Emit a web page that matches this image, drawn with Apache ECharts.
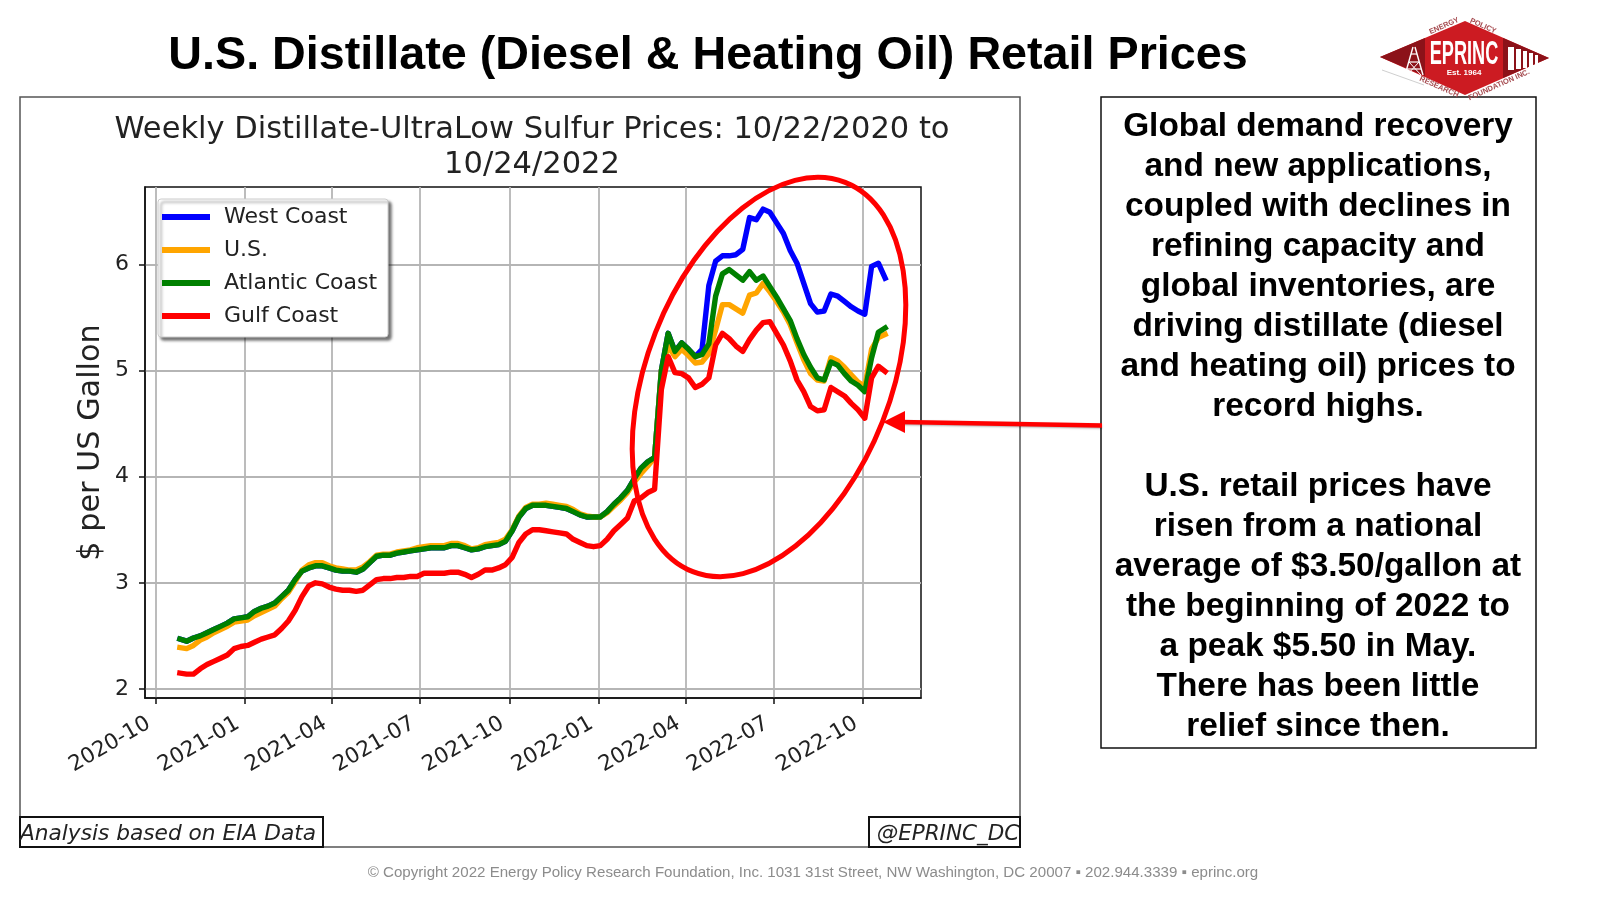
<!DOCTYPE html>
<html><head><meta charset="utf-8">
<style>html,body{margin:0;padding:0;background:#fff}#c{width:1600px;height:900px}</style>
<script src="https://cdn.jsdelivr.net/npm/echarts@6/dist/echarts.min.js"></script>
</head><body><div id="c"></div>
<script>
const firstWeek = Date.UTC(2020, 9, 26);
const weekCount = 105;
const xTickLabels = ['2020-10','2021-01','2021-04','2021-07','2021-10','2022-01','2022-04','2022-07','2022-10'];
const yTickLabels = [2,3,4,5,6];

const atlanticCoast = [2.47,2.45,2.48,2.50,2.53,2.56,2.59,2.62,2.66,2.67,2.68,2.73,2.76,2.78,2.81,2.87,2.93,3.03,3.11,3.14,
3.16,3.16,3.14,3.12,3.11,3.11,3.10,3.13,3.19,3.25,3.26,3.26,3.28,3.29,3.30,3.31,3.32,3.33,3.33,3.33,
3.35,3.35,3.33,3.31,3.32,3.34,3.35,3.36,3.39,3.49,3.62,3.70,3.73,3.73,3.73,3.72,3.71,3.70,3.67,3.64,
3.62,3.62,3.62,3.67,3.74,3.80,3.87,3.98,4.08,4.14,4.18,5.00,5.35,5.18,5.26,5.20,5.13,5.15,5.25,5.70,
5.91,5.95,5.90,5.85,5.93,5.85,5.89,5.79,5.69,5.58,5.47,5.30,5.15,5.03,4.93,4.91,5.08,5.05,4.97,4.90,
4.86,4.80,5.12,5.36,5.40];
const usAverage = [2.39,2.38,2.41,2.46,2.49,2.53,2.56,2.59,2.63,2.64,2.65,2.69,2.72,2.75,2.78,2.85,2.91,3.01,3.12,3.17,
3.19,3.19,3.16,3.14,3.13,3.12,3.12,3.15,3.20,3.26,3.27,3.27,3.29,3.30,3.31,3.33,3.34,3.35,3.35,3.35,
3.37,3.37,3.35,3.32,3.33,3.36,3.37,3.38,3.41,3.50,3.63,3.71,3.74,3.74,3.75,3.74,3.73,3.72,3.69,3.65,
3.63,3.62,3.62,3.66,3.72,3.78,3.85,3.95,4.03,4.10,4.18,5.00,5.23,5.13,5.20,5.14,5.07,5.08,5.16,5.38,
5.62,5.62,5.58,5.54,5.71,5.73,5.82,5.74,5.65,5.55,5.43,5.26,5.10,4.97,4.91,4.90,5.12,5.09,5.03,4.96,
4.89,4.85,5.20,5.31,5.34];
const gulfCoast = [2.15,2.14,2.14,2.19,2.23,2.26,2.29,2.32,2.38,2.40,2.41,2.44,2.47,2.49,2.51,2.57,2.64,2.74,2.87,2.97,
3.00,2.99,2.96,2.94,2.93,2.93,2.92,2.93,2.98,3.03,3.04,3.04,3.05,3.05,3.06,3.06,3.09,3.09,3.09,3.09,
3.10,3.10,3.08,3.05,3.08,3.12,3.12,3.14,3.17,3.24,3.38,3.46,3.50,3.50,3.49,3.48,3.47,3.46,3.41,3.38,
3.35,3.34,3.35,3.41,3.49,3.55,3.61,3.77,3.80,3.85,3.88,4.82,5.13,4.98,4.97,4.93,4.84,4.87,4.93,5.24,
5.35,5.30,5.23,5.18,5.29,5.38,5.45,5.46,5.35,5.24,5.09,4.91,4.80,4.66,4.62,4.63,4.84,4.80,4.76,4.69,
4.63,4.55,4.93,5.04,4.99];
// West Coast is only visible from May 2022; before that it lies hidden beneath the Atlantic line.
const westCoastVisible = [5.20,5.80,6.03,6.08,6.08,6.09,6.14,6.44,6.42,6.52,6.49,6.39,6.29,6.13,6.01,5.82,5.63,5.55,5.56,5.72,5.70,5.65,5.60,5.56,5.53,5.98,6.01,5.87];
const westCoast = atlanticCoast.slice(0, weekCount - westCoastVisible.length).concat(westCoastVisible);

const commentary = ['Global demand recovery','and new applications,','coupled with declines in','refining capacity and','global inventories, are','driving distillate (diesel','and heating oil) prices to','record highs.','','U.S. retail prices have','risen from a national','average of $3.50/gallon at','the beginning of 2022 to','a peak $5.50 in May.','There has been little','relief since then.'];

const DEJA = '"DejaVu Sans"', LIB = '"Liberation Sans"';
const weeks = Array.from({length: weekCount}, (_, i) => firstWeek + i * 7 * 864e5);
const zip = vals => vals.map((v, i) => [weeks[i], v]);
const xTicks = xTickLabels.map(s => Date.UTC(+s.slice(0,4), +s.slice(5)-1, 1));
const mk = (name, data, color) => ({name, type:'line', data: zip(data), showSymbol:false, symbol:'none',
  lineStyle:{color, width:5.4, cap:'square', join:'round'}, itemStyle:{color}, emphasis:{disabled:true}, animation:false});

const txt = (text,x,y,font,fill,extra) => Object.assign({type:'text',x,y,z:20,silent:true,
  style:{text,font,fill,align:'center',verticalAlign:'middle'}},extra||{});
const box = (x,y,w,h,stroke,lw) => ({type:'rect',z:19,silent:true,shape:{x,y,width:w,height:h},style:{fill:null,stroke:stroke||'#000',lineWidth:lw||1.5}});
const poly = (points,fill) => ({type:'polygon',z:20,silent:true,shape:{points},style:{fill}});
const seg = (x1,y1,x2,y2,stroke,lw,z) => ({type:'line',z:z||22,silent:true,shape:{x1,y1,x2,y2},style:{stroke,lineWidth:lw}});

const graphics = [
  box(20,97,1000,750,'#555',1.5),
  box(20,817,303,30,'#111',2),
  box(869,817,151,30,'#111',2),
  txt('Analysis based on EIA Data',168,834,'italic 21.7px '+DEJA,'#222'),
  txt('@EPRINC_DC',948,834,'italic 21.5px '+DEJA,'#222'),
  box(1101,97,435,651,'#111',1.5),
  ...commentary.map((s,i)=>txt(s,1318,126.5+i*40,'bold 33.4px '+LIB,'#000')),
  txt('© Copyright 2022 Energy Policy Research Foundation, Inc. 1031 31st Street, NW Washington, DC 20007 ▪ 202.944.3339 ▪ eprinc.org',813,872.5,'15.1px '+LIB,'#8c8c8c'),
  {type:'ellipse',x:769,y:377,rotation:-0.373,z:25,silent:true,shape:{cx:0,cy:0,rx:122,ry:209},style:{fill:null,stroke:'#ff0000',lineWidth:5}},
  {type:'line',z:25,silent:true,shape:{x1:1102,y1:425.5,x2:900,y2:422},style:{stroke:'#ff0000',lineWidth:4.5,shadowColor:'rgba(0,0,0,.3)',shadowBlur:2,shadowOffsetY:1}},
  Object.assign(poly([[883,422],[905,411],[905,433]],'#ff0000'),{z:25}),
  // logo
  poly([[1380,57],[1465,21],[1549,58],[1465,95]],'#cc1b22'),
  Object.assign(poly([[1380,57],[1425,38],[1425,76]],'#8c1219'),{z:21}),
  Object.assign(poly([[1503,38],[1549,58],[1503,78]],'#8c1219'),{z:21}),
  txt('EPRINC',1464,55,'bold 33px '+LIB,'#fff',{z:22,scaleX:.55}),
  txt('Est. 1964',1464,73,'bold 8px '+LIB,'#fff',{z:22}),
  txt('ENERGY',1444,26,'bold 7.5px '+LIB,'#a54a4f',{rotation:.42,z:22}),
  txt('POLICY',1483,26,'bold 7.5px '+LIB,'#a54a4f',{rotation:-.42,z:22}),
  txt('RESEARCH',1439,87,'bold 7.5px '+LIB,'#a54a4f',{rotation:-.42,z:22}),
  txt('FOUNDATION INC.',1499,85,'bold 7.5px '+LIB,'#a54a4f',{rotation:.42,z:22}),
  seg(1382,70,1424,85,'#cfcfcf',1,19),
  seg(1413,47,1405,75,'#fff',1.4), seg(1415,47,1423,75,'#fff',1.4),
  seg(1411,54,1417,54,'#fff',1.2), seg(1409,62,1419,62,'#fff',1.2), seg(1407,69,1421,69,'#fff',1.2),
  seg(1409,62,1421,75,'#fff',1), seg(1419,62,1407,75,'#fff',1),
  ...[[1508,47,6,23],[1516,49,5,20],[1523,51,4,17],[1529,53,4,14],[1535,55,3,10]].map(b=>({type:'rect',z:22,silent:true,shape:{x:b[0],y:b[1],width:b[2],height:b[3]},style:{fill:'#fff'}}))
];

const chart = echarts.init(document.getElementById('c'), null, {renderer:'canvas'});
chart.setOption({
  animation:false, backgroundColor:'#fff',
  title:[
    {text:'U.S. Distillate (Diesel & Heating Oil) Retail Prices',left:708,top:56,textAlign:'center',textVerticalAlign:'middle',padding:0,
     textStyle:{fontFamily:LIB,fontWeight:'bold',fontSize:46.7,color:'#000'}},
    {text:'Weekly Distillate-UltraLow Sulfur Prices: 10/22/2020 to\n10/24/2022',left:532,top:148,textAlign:'center',textVerticalAlign:'middle',padding:0,
     textStyle:{fontFamily:DEJA,fontWeight:'normal',fontSize:30.5,lineHeight:35,color:'#222'}}
  ],
  grid:{left:145,top:187,width:776,height:511,show:true,borderColor:'#111',borderWidth:1.5,backgroundColor:'#fff'},
  xAxis:{type:'value',scale:true,min:Date.UTC(2020,8,20),max:Date.UTC(2022,10,30),
    axisLine:{show:true,lineStyle:{color:'#111',width:1.5}},
    axisTick:{show:true,length:6,lineStyle:{color:'#111',width:1.5},customValues:xTicks},
    splitLine:{show:true,lineStyle:{color:'#b5b5b5',width:1.8}},
    axisLabel:{customValues:xTicks,rotate:30,margin:20,padding:[0,8,0,0],fontFamily:DEJA,fontSize:21.5,color:'#222',hideOverlap:false,
      formatter:v=>{const d=new Date(v);return d.getUTCFullYear()+'-'+String(d.getUTCMonth()+1).padStart(2,'0');}}},
  yAxis:{type:'value',min:1.915,max:6.728,name:'$ per US Gallon',nameLocation:'middle',nameRotate:90,nameGap:39,
    nameTextStyle:{fontFamily:DEJA,fontSize:30.3,color:'#222'},
    axisLine:{show:true,lineStyle:{color:'#111',width:1.5}},
    axisTick:{show:true,length:6,lineStyle:{color:'#111',width:1.5},customValues:yTickLabels},
    splitLine:{show:true,lineStyle:{color:'#b5b5b5',width:1.8}},
    axisLabel:{customValues:yTickLabels,margin:16,padding:[10,0,0,0],fontFamily:DEJA,fontSize:22,color:'#222',formatter:v=>String(v)}},
  legend:{orient:'vertical',left:158,top:199,padding:[5,11,8,4],itemGap:7,itemWidth:48,itemHeight:6,icon:'rect',
    backgroundColor:'#fff',borderColor:'#ccc',borderWidth:1,borderRadius:3,shadowColor:'rgba(0,0,0,.55)',shadowBlur:3,shadowOffsetX:3,shadowOffsetY:3,
    selectedMode:false,textStyle:{fontFamily:DEJA,fontSize:22,color:'#222',padding:[2,0,0,9],lineHeight:24},
    data:['West Coast','U.S.','Atlantic Coast','Gulf Coast']},
  tooltip:{show:false},
  series:[mk('West Coast',westCoast,'#0000ff'),mk('U.S.',usAverage,'#ffa500'),mk('Atlantic Coast',atlanticCoast,'#008000'),mk('Gulf Coast',gulfCoast,'#ff0000')],
  graphic:graphics
});
</script></body></html>
